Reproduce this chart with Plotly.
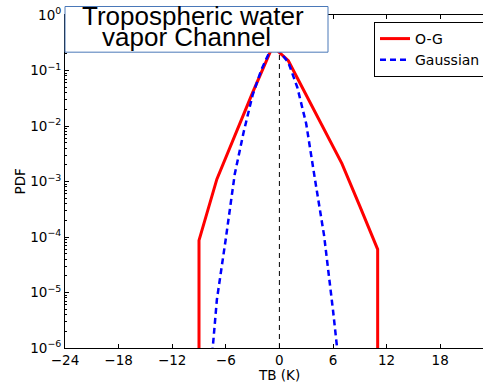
import plotly.graph_objects as go

# O-G distribution (TB in K, PDF)
tb_og = [-9, -9, -7, -5, -3, -1, -0.5, 1, 3, 5, 7, 9, 11, 11]
pdf_og = [1e-8, 8.7e-5, 1.1e-3, 6.6e-3, 4.0e-2, 0.22, 0.25, 0.15, 3.6e-2, 8.7e-3, 2.1e-3, 3.6e-4, 6.0e-5, 1e-8]

# Gaussian fit
tb_gauss = [-8, -7, -6, -5, -4, -3, -2, -1, -0.5, 0, 1, 2, 3, 4, 5, 6, 7]
pdf_gauss = [1e-7, 7.4e-6, 9.3e-5, 1.35e-3, 7.8e-3, 3.6e-2, 0.105, 0.235, 0.28, 0.22, 0.14,
             0.05, 0.011, 1.05e-3, 1.07e-4, 4.8e-6, 1.6e-7]

# zero reference line
tb_zero = [0, 0]
pdf_zero = [1e-6, 1]

x_ticks = [-24, -18, -12, -6, 0, 6, 12, 18]
x_ticktext = ["\u221224", "\u221218", "\u221212", "\u22126", "0", "6", "12", "18"]
y_ticks = [1e-6, 1e-5, 1e-4, 1e-3, 1e-2, 1e-1, 1]
y_ticktext = ["10<sup>\u22126</sup>", "10<sup>\u22125</sup>", "10<sup>\u22124</sup>",
              "10<sup>\u22123</sup>", "10<sup>\u22122</sup>", "10<sup>\u22121</sup>", "10<sup>0</sup>"]

title_lines = ["Tropospheric water", "vapor Channel"]

W, H = 483, 383
L, R, T, B = 65, 0, 14.5, 35.3
pw, ph = W - L - R, H - T - B

def px_x(p):
    return (p - L) / pw

def px_y(p):
    return 1 - (p - T) / ph

font_main = "DejaVu Sans"

fig = go.Figure()
fig.add_trace(go.Scatter(x=tb_zero, y=pdf_zero, mode="lines", showlegend=False,
                         line=dict(color="black", width=1, dash="5px,4px"), hoverinfo="skip"))
fig.add_trace(go.Scatter(x=tb_og, y=pdf_og, mode="lines", name="O-G",
                         line=dict(color="#ff0000", width=3)))
fig.add_trace(go.Scatter(x=tb_gauss, y=pdf_gauss, mode="lines", name="Gaussian",
                         line=dict(color="#0000ff", width=2.5, dash="6px,4px")))

fig.update_layout(
    width=W, height=H,
    margin=dict(l=L, r=R, t=T, b=B, pad=0, autoexpand=False),
    paper_bgcolor="white", plot_bgcolor="white",
    font=dict(family=font_main, size=13.5, color="black"),
    xaxis=dict(range=[-24, -24 + pw / (53.6 / 6)], tickvals=x_ticks, ticktext=x_ticktext,
               ticks="inside", ticklen=4, tickcolor="black", showline=True, linecolor="black",
               linewidth=1, mirror="ticks", showgrid=False, zeroline=False,
               tickfont=dict(family=font_main, size=13.5)),
    yaxis=dict(type="log", range=[-6, 0], tickvals=y_ticks, ticktext=y_ticktext,
               ticks="inside", ticklen=4, tickcolor="black", showline=True, linecolor="black",
               linewidth=1, mirror=False, showgrid=False, zeroline=False,
               tickfont=dict(family=font_main, size=13.5),
               minor=dict(ticks="inside", ticklen=2, tickcolor="black", dtick="D1", showgrid=False)),
    legend=dict(x=px_x(374), y=px_y(21.5), xanchor="left", yanchor="top",
                bordercolor="black", borderwidth=1, bgcolor="white",
                entrywidth=120, entrywidthmode="pixels",
                font=dict(family=font_main, size=14), tracegroupgap=0),
    shapes=[dict(type="rect", xref="paper", yref="paper", x0=0, x1=px_x(328), y0=px_y(51.7), y1=px_y(6),
                 fillcolor="white", line=dict(color="#4a78b8", width=1), layer="above")],
    annotations=[
        dict(text="TB (K)", x=0, xref="x", y=px_y(374.5), yref="paper", showarrow=False,
             xanchor="center", yanchor="middle", font=dict(family=font_main, size=13.5)),
        dict(text="PDF", x=px_x(19), xref="paper", y=0.5, yref="paper", showarrow=False,
             textangle=-90, xanchor="center", yanchor="middle", font=dict(family=font_main, size=13.5)),
        dict(text=title_lines[0], x=px_x(193), xref="paper", y=px_y(16), yref="paper", showarrow=False,
             xanchor="center", yanchor="middle", font=dict(family="Liberation Sans", size=26)),
        dict(text=title_lines[1], x=px_x(186), xref="paper", y=px_y(37), yref="paper", showarrow=False,
             xanchor="center", yanchor="middle", font=dict(family="Liberation Sans", size=26)),
    ],
)

fig.write_html("out.html")
